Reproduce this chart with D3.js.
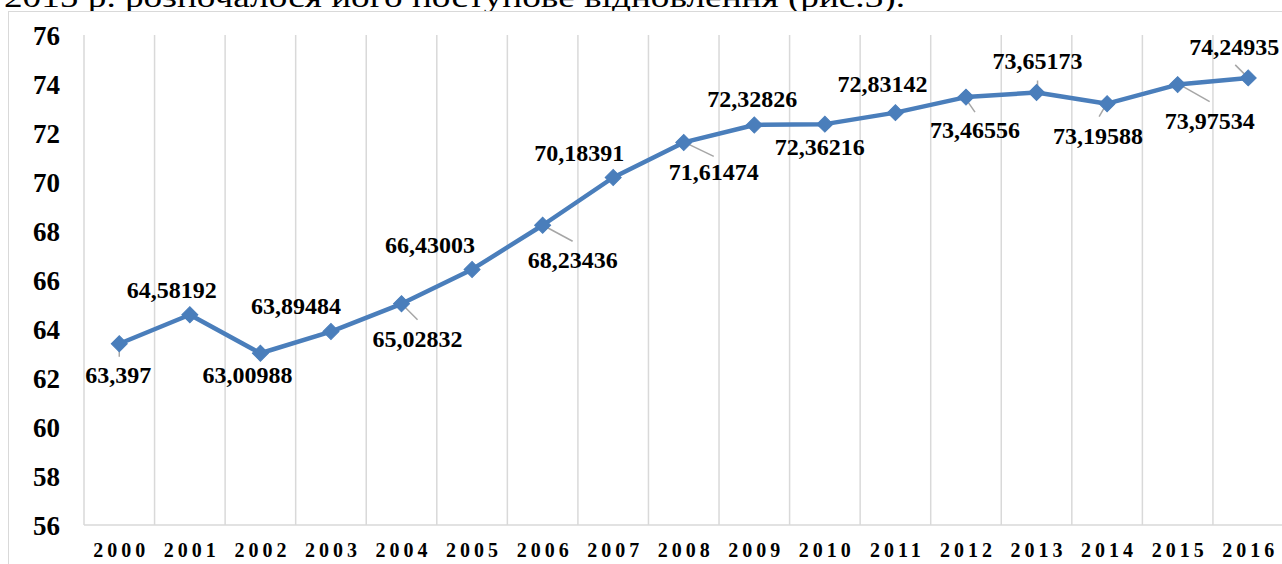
<!DOCTYPE html>
<html>
<head>
<meta charset="utf-8">
<script src="https://cdn.jsdelivr.net/npm/d3@7"></script>
<style>
  body { margin: 0; background: #fff; }
  svg { display: block; font-family: "Liberation Serif", "Times New Roman", serif; }
</style>
</head>
<body>
<div id="chart"></div>
<script>
// data
const years = ["2000","2001","2002","2003","2004","2005","2006","2007","2008",
               "2009","2010","2011","2012","2013","2014","2015","2016"];
const values = [63.397, 64.58192, 63.00988, 63.89484, 65.02832, 66.43003, 68.23436, 70.18391,
                71.61474, 72.32826, 72.36216, 72.83142, 73.46556, 73.65173, 73.19588, 73.97534, 74.24935];
const yTicks = [56, 58, 60, 62, 64, 66, 68, 70, 72, 74, 76];

// label placement (offset from point: center x, baseline y)
const labelDx = [-1, -18, -13, -35, 16, -42, 30, -34, 30, -2, -5, -13, 9, 1, -9, 32, -14];
const labelDy = [39, -17, 30, -18, 43, -16, 43, -16, 38, -18, 31, -21, 41, -24, 40, 44, -23];
// leader lines (offsets from point), null = none
const leaders = [[0,2,0,13], null, null, null, [2,2,16,16], null, [4,2,30,16], null, [3,1,30,14],
                 null, null, null, [0,2,9,15], [1,-1,1,-12], [-1,1,-8,13], [2,0,32,17], [-1,-1,-13,-13]];

const W = 1282, H = 564;
const svg = d3.select("#chart").append("svg").attr("width", W).attr("height", H);

// clipped body text above the chart
svg.append("text")
    .attr("x", 4).attr("y", 7)
    .attr("font-size", 29)
    .attr("textLength", 901)
    .attr("lengthAdjust", "spacingAndGlyphs")
    .attr("fill", "#000")
    .text("2015 р. розпочалося його поступове відновлення (рис.3).");

// chart border
svg.append("rect")
    .attr("x", 8.5).attr("y", 11.5)
    .attr("width", 1400).attr("height", 700)
    .attr("fill", "#fff")
    .attr("stroke", "#d9d9d9").attr("stroke-width", 1);

const x = d3.scaleBand().domain(years).range([84, 1283.5]).padding(0);
const y = d3.scaleLinear().domain([56, 76]).range([525, 35]);

// vertical gridlines at category boundaries
const bounds = d3.range(years.length + 1).map(i => x.range()[0] + i * x.bandwidth());
svg.append("g").selectAll("line").data(bounds).enter()
    .append("line")
    .attr("x1", d => d).attr("x2", d => d)
    .attr("y1", y(76)).attr("y2", y(56))
    .attr("stroke", "#d9d9d9").attr("stroke-width", 1.5);

// baseline
svg.append("line")
    .attr("x1", x.range()[0]).attr("x2", x.range()[1])
    .attr("y1", y(56)).attr("y2", y(56))
    .attr("stroke", "#d9d9d9").attr("stroke-width", 1.5);

// y axis
const yAxis = svg.append("g")
    .attr("transform", "translate(60,0)")
    .call(d3.axisLeft(y).tickValues(yTicks).tickSize(0).tickPadding(0));
yAxis.select(".domain").remove();
yAxis.selectAll("text")
    .attr("font-family", "Liberation Serif, serif")
    .attr("font-size", 27).attr("font-weight", "bold").attr("fill", "#000")
    .attr("dy", "0.34em");

// x axis
const xAxis = svg.append("g")
    .attr("transform", "translate(2," + y(56) + ")")
    .call(d3.axisBottom(x).tickSize(0).tickPadding(0));
xAxis.select(".domain").remove();
xAxis.selectAll("text")
    .attr("font-family", "Liberation Serif, serif")
    .attr("font-size", 20).attr("font-weight", "bold").attr("fill", "#000")
    .attr("letter-spacing", 4)
    .attr("y", 32).attr("dy", 0);

const px = (d, i) => x(years[i]) + x.bandwidth() / 2;
const py = d => y(d);

// leader lines
svg.append("g").selectAll("line")
    .data(values.map((v, i) => ({ v, i, l: leaders[i] })).filter(d => d.l))
    .enter().append("line")
    .attr("x1", d => px(d.v, d.i) + d.l[0]).attr("y1", d => py(d.v) + d.l[1])
    .attr("x2", d => px(d.v, d.i) + d.l[2]).attr("y2", d => py(d.v) + d.l[3])
    .attr("stroke", "#a6a6a6").attr("stroke-width", 1.5);

// line
const line = d3.line().x((d, i) => px(d, i)).y(d => py(d));
svg.append("path")
    .datum(values)
    .attr("d", line)
    .attr("fill", "none")
    .attr("stroke", "#4a7ebb")
    .attr("stroke-width", 4.5)
    .attr("stroke-linejoin", "round");

// markers
const diamond = d3.symbol().type(d3.symbolSquare).size(128);
svg.append("g").selectAll("path").data(values).enter()
    .append("path")
    .attr("d", diamond)
    .attr("transform", (d, i) => "translate(" + px(d, i) + "," + py(d) + ") rotate(45)")
    .attr("fill", "#4a7ebb")
    .attr("stroke", "#4a7ebb").attr("stroke-width", 1);

// data labels
svg.append("g").selectAll("text").data(values).enter()
    .append("text")
    .attr("x", (d, i) => px(d, i) + labelDx[i])
    .attr("y", (d, i) => py(d) + labelDy[i])
    .attr("text-anchor", "middle")
    .attr("font-size", 24).attr("font-weight", "bold").attr("fill", "#000")
    .text(d => String(d).replace(".", ","));
</script>
</body>
</html>
